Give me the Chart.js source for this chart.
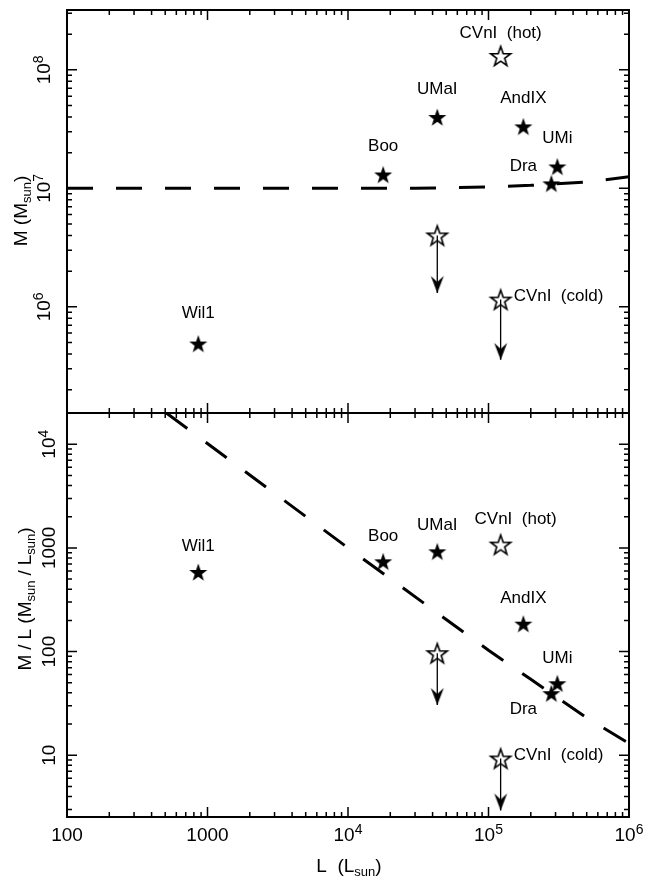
<!DOCTYPE html>
<html>
<head>
<meta charset="utf-8">
<script src="https://cdn.jsdelivr.net/npm/chart.js@4.4.1/dist/chart.umd.min.js"></script>
<style>
  html, body { margin: 0; padding: 0; background: #fff; }
  #wrap { position: relative; width: 648px; height: 884px; }
  #wrap canvas { position: absolute; left: 0; top: 0; }
</style>
</head>
<body>
<div id="wrap">
  <canvas id="massChart" width="648" height="884"></canvas>
  <canvas id="ratioChart" width="648" height="884"></canvas>
</div>
<script>
// measured dwarfs (filled stars)
const galaxyNames = ["Wil1", "Boo", "UMaI", "AndIX", "UMi", "Dra"];
const galaxyL = [860, 17800, 43200, 177000, 309000, 280000];
const galaxyM = [4.9e5, 1.31e7, 4.0e7, 3.33e7, 1.53e7, 1.10e7];
const galaxyML = [586, 742, 927, 186, 49.5, 39.7];

// open star, no arrow
const openNames = ["CVnI  (hot)"];
const openL = [122000];
const openM = [1.31e8];
const openML = [1076];

// upper limits (open star + arrow down to tip)
const limitNames = ["", "CVnI  (cold)"];
const limitL = [43200, 122000];
const limitM = [4.0e6, 1.15e6];
const limitMTip = [1.31e6, 3.57e5];
const limitML = [96.5, 9.3];
const limitMLTip = [30.6, 2.94];

// dashed model curves
const curveMassL = [100, 30000, 100000, 200000, 500000, 1000000];
const curveMass = [1.0e7, 1.0e7, 1.03e7, 1.06e7, 1.13e7, 1.25e7];
const curveRatioL = [510, 10000, 100000, 200000, 500000, 1000000];
const curveRatio = [20000, 1000, 103, 54, 23, 13];

// axes
const xRange = [100, 1e6];
const massRange = [1.27e5, 3.2e8];
const ratioRange = [2.54, 2.0e4];
const xTickValues = [100, 1000, 1e4, 1e5, 1e6];
const xTickLabels = ["100", "1000", "10^4", "10^5", "10^6"];
const massTickValues = [1e6, 1e7, 1e8];
const massTickLabels = ["10^6", "10^7", "10^8"];
const ratioTickValues = [10, 100, 1000, 1e4];
const ratioTickLabels = ["10", "100", "1000", "10^4"];

const FONT = '"Liberation Sans", Arial, sans-serif';

// label offsets in px from the star, [dx, dy, align]
const massLabelPos = {
  "Wil1": [0, -30, "center"], "Boo": [0, -28, "center"], "UMaI": [0, -28, "center"],
  "AndIX": [0, -28, "center"], "UMi": [0, -28, "center"], "Dra": [-28, -17, "center"],
  "CVnI  (hot)": [0, -23, "center"], "CVnI  (cold)": [13, -3, "left"]
};
const ratioLabelPos = {
  "Wil1": [0, -26, "center"], "Boo": [0, -25, "center"], "UMaI": [0, -26, "center"],
  "AndIX": [0, -25, "center"], "UMi": [0, -25, "center"], "Dra": [-28, 16, "center"],
  "CVnI  (hot)": [15, -25, "center"], "CVnI  (cold)": [13, -3, "left"]
};

function makeStar(filled) {
  const c = document.createElement("canvas");
  c.width = 26; c.height = 26;
  const g = c.getContext("2d");
  const R = filled ? 9.5 : 10.5, r = R * 0.4;
  g.beginPath();
  for (let i = 0; i < 10; i++) {
    const a = -Math.PI / 2 + i * Math.PI / 5;
    const rr = i % 2 ? r : R;
    g.lineTo(13 + rr * Math.cos(a), 14 + rr * Math.sin(a));
  }
  g.closePath();
  if (filled) { g.fillStyle = "#000"; g.fill(); }
  else { g.strokeStyle = "#000"; g.lineWidth = 1.6; g.stroke(); }
  return c;
}

function makeArrowHead() {
  // tip sits at the canvas centre, head points down
  const c = document.createElement("canvas");
  c.width = 16; c.height = 36;
  const g = c.getContext("2d");
  g.fillStyle = "#000";
  g.beginPath();
  g.moveTo(8, 18);
  g.lineTo(1.5, 1);
  g.lineTo(8, 7);
  g.lineTo(14.5, 1);
  g.closePath();
  g.fill();
  return c;
}

const filledStar = makeStar(true);
const openStar = makeStar(false);
const arrowHead = makeArrowHead();

const pts = (xs, ys) => xs.map((x, i) => ({ x: x, y: ys[i] }));

function richParts(label, size, supSize) {
  const [base, exp] = label.split("^");
  const parts = [[base, size, 0]];
  if (exp) parts.push([exp, supSize, -7]);
  return parts;
}

// parts: [text, fontSize, baselineShift, sidePadding]
function drawRich(ctx, parts, x, y, align) {
  let w = 0;
  parts.forEach(p => { ctx.font = p[1] + "px " + FONT; w += ctx.measureText(p[0]).width + 2 * (p[3] || 0); });
  let cx = align === "center" ? x - w / 2 : align === "right" ? x - w : x;
  ctx.textAlign = "left";
  parts.forEach(p => {
    ctx.font = p[1] + "px " + FONT;
    cx += p[3] || 0;
    ctx.fillText(p[0], cx, y + p[2]);
    cx += ctx.measureText(p[0]).width + (p[3] || 0);
  });
}

function logTicks(min, max) {
  const out = [];
  for (let d = Math.floor(Math.log10(min)); d <= Math.ceil(Math.log10(max)); d++) {
    for (let k = 1; k < 10; k++) {
      const v = k * Math.pow(10, d);
      if (v >= min * 0.999 && v <= max * 1.001) out.push({ v: v, major: k === 1 });
    }
  }
  return out;
}

const framePlugin = {
  id: "frame",
  afterDraw(chart, args, opts) {
    const { ctx, chartArea: a } = chart;
    const xs = chart.scales.x, ys = chart.scales.y;
    ctx.save();
    ctx.strokeStyle = "#000";
    ctx.fillStyle = "#000";
    ctx.lineWidth = 1.5;
    ctx.beginPath();
    logTicks(xs.min, xs.max).forEach(t => {
      const px = xs.getPixelForValue(t.v), len = t.major ? 10 : 5;
      ctx.moveTo(px, a.top); ctx.lineTo(px, a.top + len);
      ctx.moveTo(px, a.bottom); ctx.lineTo(px, a.bottom - len);
    });
    logTicks(ys.min, ys.max).forEach(t => {
      const py = ys.getPixelForValue(t.v), len = t.major ? 10 : 5;
      ctx.moveTo(a.left, py); ctx.lineTo(a.left + len, py);
      ctx.moveTo(a.right, py); ctx.lineTo(a.right - len, py);
    });
    ctx.stroke();
    ctx.lineWidth = 2;
    ctx.strokeRect(a.left, a.top, a.right - a.left, a.bottom - a.top);

    // y tick labels, rotated
    ctx.textBaseline = "alphabetic";
    opts.yTicks.forEach((v, i) => {
      const py = ys.getPixelForValue(v);
      ctx.save();
      ctx.translate(opts.yLabelX, py);
      ctx.rotate(-Math.PI / 2);
      drawRich(ctx, richParts(opts.yLabels[i], 19, 14), 0, 0, "center");
      ctx.restore();
    });

    // y title
    ctx.save();
    ctx.translate(opts.yTitleX, opts.yTitleY);
    ctx.rotate(-Math.PI / 2);
    drawRich(ctx, opts.yTitle, 0, 0, "center");
    ctx.restore();

    if (opts.showX) {
      xTickValues.forEach((v, i) => {
        drawRich(ctx, richParts(xTickLabels[i], 19, 14), xs.getPixelForValue(v), 841, "center");
      });
      drawRich(ctx, [["L  (L", 19, 0], ["sun", 13, 4], [")", 19, 0]], 349, 872, "center");
    }

    // point labels
    ctx.textBaseline = "middle";
    ctx.font = "17px " + FONT;
    opts.labels.forEach(lab => {
      const el = chart.getDatasetMeta(lab.ds).data[lab.idx];
      const pos = opts.labelPos[lab.text];
      if (!el || !pos) return;
      ctx.textAlign = pos[2];
      ctx.fillText(lab.text, el.x + pos[0], el.y + pos[1]);
    });
    ctx.restore();
  }
};

function makeChart(id, pad, yRange, mainY, openY, limitY, limitTip, curveX, curveY, pluginOpts) {
  const datasets = [
    { data: pts(galaxyL, mainY), pointStyle: filledStar, pointRadius: 9, showLine: false },
    { data: pts(openL.concat(limitL), openY.concat(limitY)), pointStyle: openStar, pointRadius: 9, showLine: false }
  ];
  limitL.forEach((l, i) => {
    datasets.push({
      data: [{ x: l, y: limitY[i] }, { x: l, y: limitTip[i] }],
      showLine: true, borderColor: "#000", borderWidth: 1.3,
      pointStyle: arrowHead, pointRadius: [0, 6]
    });
  });
  datasets.push({
    data: pts(curveX, curveY), showLine: true, borderColor: "#000", borderWidth: 3,
    borderDash: [26, 23], borderCapStyle: "butt", pointRadius: 0, tension: 0
  });

  const labels = [];
  galaxyNames.forEach((n, i) => labels.push({ ds: 0, idx: i, text: n }));
  openNames.forEach((n, i) => labels.push({ ds: 1, idx: i, text: n }));
  limitNames.forEach((n, i) => { if (n) labels.push({ ds: 1, idx: openNames.length + i, text: n }); });
  pluginOpts.labels = labels;

  return new Chart(document.getElementById(id), {
    type: "scatter",
    data: { datasets: datasets },
    options: {
      responsive: false,
      animation: false,
      events: [],
      layout: { padding: pad },
      elements: { point: { backgroundColor: "#000", borderColor: "#000", borderWidth: 0 } },
      scales: {
        x: { type: "logarithmic", min: xRange[0], max: xRange[1], display: false },
        y: { type: "logarithmic", min: yRange[0], max: yRange[1], display: false }
      },
      plugins: {
        legend: { display: false },
        tooltip: { enabled: false },
        frame: pluginOpts
      }
    },
    plugins: [framePlugin]
  });
}

makeChart("massChart", { left: 67, right: 19, top: 10, bottom: 471 }, massRange,
  galaxyM, openM, limitM, limitMTip, curveMassL, curveMass, {
    yTicks: massTickValues, yLabels: massTickLabels, yLabelX: 50,
    yTitle: [["M (M", 19, 0], ["sun", 13, 4], [")", 19, 0]], yTitleX: 27, yTitleY: 211,
    showX: false, labelPos: massLabelPos
  });

makeChart("ratioChart", { left: 67, right: 19, top: 413, bottom: 67 }, ratioRange,
  galaxyML, openML, limitML, limitMLTip, curveRatioL, curveRatio, {
    yTicks: ratioTickValues, yLabels: ratioTickLabels, yLabelX: 55,
    yTitle: [["M", 19, 0], ["/", 19, 0, 5], ["L (M", 19, 0], ["sun", 13, 4], ["/", 19, 0, 5], ["L", 19, 0], ["sun", 13, 4], [")", 19, 0]],
    yTitleX: 31, yTitleY: 599,
    showX: true, labelPos: ratioLabelPos
  });
</script>
</body>
</html>
